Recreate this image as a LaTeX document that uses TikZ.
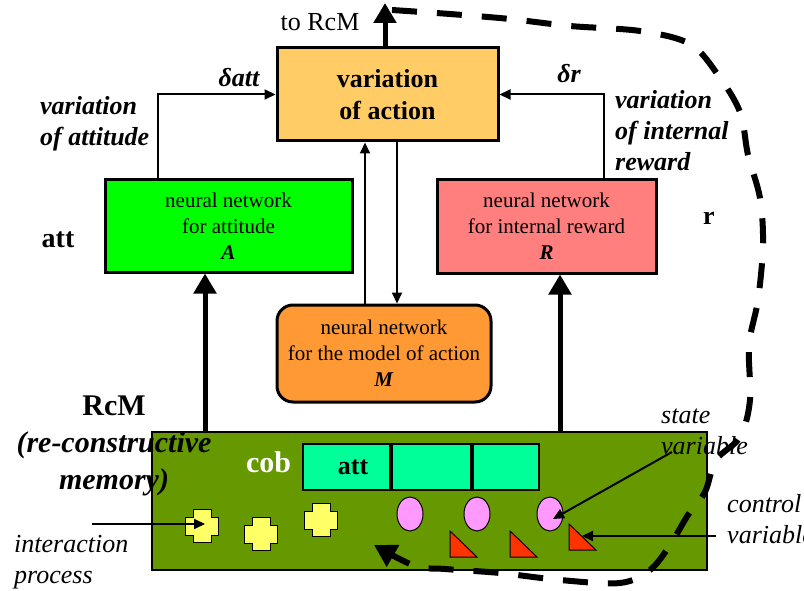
\documentclass[tikz,border=0pt]{standalone}
\usepackage{fontspec}
\setmainfont{Liberation Serif}
\usetikzlibrary{arrows.meta, positioning, calc, shapes.geometric}

\definecolor{actfill}{HTML}{FFCC66}
\definecolor{attfill}{HTML}{00FF00}
\definecolor{rewfill}{HTML}{FF7F7F}
\definecolor{modfill}{HTML}{FF9933}
\definecolor{memfill}{HTML}{669900}
\definecolor{cobfill}{HTML}{00FF99}
\definecolor{crossfill}{HTML}{FFFF66}
\definecolor{statefill}{HTML}{FF99FF}
\definecolor{ctrlfill}{HTML}{FF3300}

\begin{document}
\begin{tikzpicture}[x=1pt, y=-1pt,
    netbox/.style={draw=black, line width=3pt, align=center, inner sep=0pt, font=\fontsize{21}{26}\selectfont},
    thinarr/.style={-{Triangle[length=11pt,width=10pt]}, line width=2pt},
    thickarr/.style={-{Triangle[length=20pt,width=22pt]}, line width=5pt},
    note/.style={align=left, inner sep=0pt, font=\fontsize{26}{31}\selectfont\itshape},
    bnote/.style={align=left, inner sep=0pt, font=\fontsize{26}{31}\selectfont\bfseries\itshape}
  ]
  \useasboundingbox (0,0) rectangle (804,591);

  % boxes
  \node[netbox, fill=actfill, minimum width=221pt, minimum height=93pt, font=\fontsize{26}{32}\selectfont\bfseries] (act) at (387.5,94.5) {variation\\of action};
  \node[netbox, fill=attfill, minimum width=247pt, minimum height=92pt] (netA) at (228.5,226) {neural network\\for attitude\\\textbf{\textit{A}}};
  \node[netbox, fill=rewfill, minimum width=219pt, minimum height=93pt] (netR) at (546.5,226.5) {neural network\\for internal reward\\\textbf{\textit{R}}};
  \node[netbox, fill=modfill, rounded corners=16pt, minimum width=214pt, minimum height=97pt] (netM) at (384,353.5) {neural network\\for the model of action\\\textbf{\textit{M}}};

  % re-constructive memory
  \node[draw=black, line width=2pt, fill=memfill, minimum width=555pt, minimum height=138pt, inner sep=0pt] (mem) at (429.5,501) {};
  \node[draw=black, line width=2pt, fill=cobfill, minimum width=87pt, minimum height=46pt, inner sep=0pt, font=\fontsize{26}{30}\selectfont\bfseries] (cell1) at (346.5,467) {\hspace*{13pt}att};
  \node[draw=black, line width=2pt, fill=cobfill, minimum width=79pt, minimum height=46pt, inner sep=0pt, right=0pt of cell1] (cell2) {};
  \node[draw=black, line width=2pt, fill=cobfill, minimum width=66pt, minimum height=46pt, inner sep=0pt, right=0pt of cell2] (cell3) {};
  \node[text=white, font=\fontsize{30}{34}\selectfont\bfseries, inner sep=0pt] (cob) at (268.5,462) {cob};

  \foreach \cx/\cy in {202/526, 261/534, 321/520}
    \draw[fill=crossfill, line width=1pt] (\cx,\cy) ++(-9,-16.5) -- ++(18,0) -- ++(0,7.5) -- ++(7.5,0) -- ++(0,18) -- ++(-7.5,0) -- ++(0,7.5) -- ++(-18,0) -- ++(0,-7.5) -- ++(-7.5,0) -- ++(0,-18) -- ++(7.5,0) -- cycle;
  \foreach \ex [count=\i] in {410, 477, 550}
    \node[ellipse, draw=black, line width=1pt, fill=statefill, minimum width=26pt, minimum height=34pt, inner sep=0pt] (sv\i) at (\ex,514) {};
  \foreach \tx/\ty in {450/531, 510/531, 569/524}
    \draw[fill=ctrlfill, line width=1pt] (\tx,\ty) -- (\tx,\ty+26) -- (\tx+27,\ty+26) -- cycle;
  \coordinate (cv3) at (582,536);
  \coordinate (cr1) at (205,524);

  % labels
  \node[font=\fontsize{26}{30}\selectfont, inner sep=0pt] (toRcM) at (320,22) {to RcM};
  \node[bnote] (datt) at (239,78) {δatt};
  \node[bnote] (dr) at (569,74) {δr};
  \node[bnote, anchor=west] (varatt) at (40,124) {variation\\of attitude};
  \node[bnote, anchor=west] (varrew) at (615,131) {variation\\of internal\\reward};
  \node[font=\fontsize{28}{32}\selectfont\bfseries, inner sep=0pt] (attlbl) at (58,240) {att};
  \node[font=\fontsize{26}{30}\selectfont\bfseries, inner sep=0pt] (rlbl) at (709,218) {r};
  \node[align=center, inner sep=0pt, font=\fontsize{30}{37}\selectfont\bfseries] (rcmlbl) at (114,446) {RcM\\\textit{(re-constructive}\\\textit{memory)}};
  \node[note, anchor=west] (iplbl) at (14,562) {interaction\\process};
  \node[note, anchor=west] (svlbl) at (661,432) {state\\variable};
  \node[note, anchor=west] (cvlbl) at (727,519) {control\\variable};

  % connectors
  \coordinate (toTop) at (385,3);
  \draw[thickarr] (act.north -| toTop) -- (toTop);
  \draw[thinarr] ([xshift=54pt]netA.north west) |- (act.west);
  \draw[thinarr] ([xshift=-54pt]netR.north east) |- (act.east);
  \draw[thinarr] ([xshift=-19pt]netM.north) -- ([xshift=-22.5pt]act.south);
  \draw[thinarr] ([xshift=9.5pt]act.south) -- ([xshift=13pt]netM.north);
  \draw[thickarr] ([xshift=-23.5pt]netA.south |- mem.north) -- ([xshift=-23.5pt]netA.south);
  \draw[thickarr] ([xshift=13.5pt]netR.south |- mem.north) -- ([xshift=13.5pt]netR.south);

  \coordinate (ipFrom) at (92,524);
  \coordinate (svFrom) at (672,452);
  \coordinate (cvFrom) at (716,536);
  \draw[thinarr] (ipFrom) -- (cr1);
  \draw[thinarr] (svFrom) -- ([shift={(3pt,-5pt)}]sv3.center);
  \draw[thinarr] (cvFrom) -- (cv3);

  % r goes back to RcM
  \draw[line width=6pt, dash pattern=on 25pt off 20pt, -{Triangle[length=22pt,width=24pt]}]
    plot[smooth, tension=0.55] coordinates {(392,10) (450,14) (510,19) (570,26) (640,31) (690,44) (718,75) (740,112) (748,155) (760,198) (763,245) (758,300) (749,345) (750,400) (740,437) (716,460) (705,492) (688,515) (670,545) (650,570) (620,583) (560,580) (500,573) (445,569) (415,566) (374,545)};
\end{tikzpicture}
\end{document}
